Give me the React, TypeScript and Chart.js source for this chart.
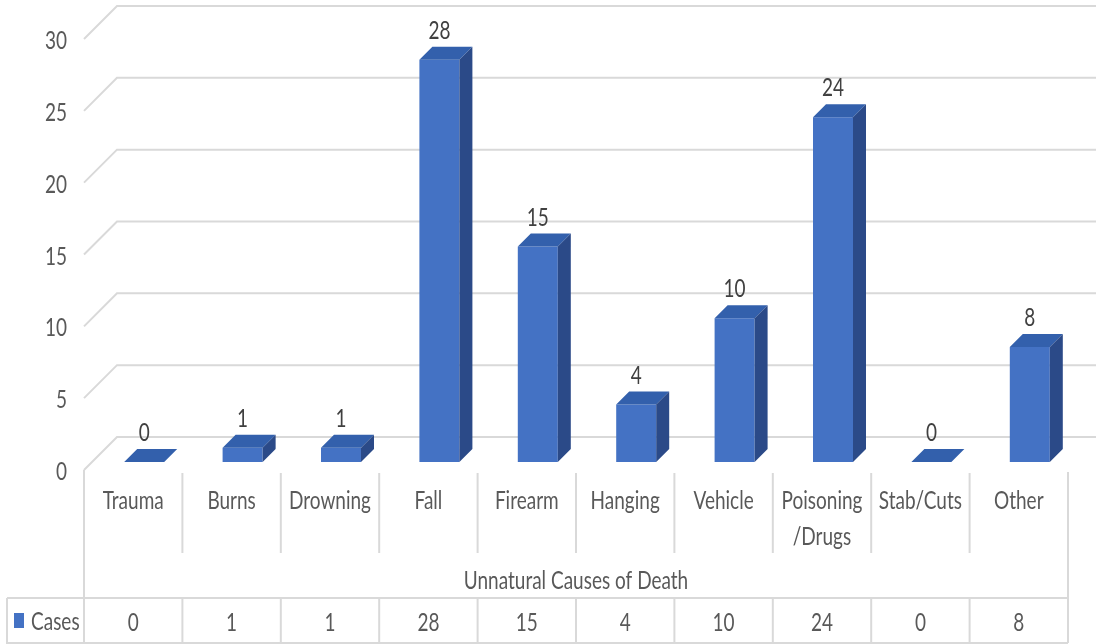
import React, { useEffect, useRef } from 'react';
import { Chart, registerables } from 'chart.js';

Chart.register(...registerables);

const categories = ['Trauma', 'Burns', 'Drowning', 'Fall', 'Firearm', 'Hanging', 'Vehicle', 'Poisoning /Drugs', 'Stab/Cuts', 'Other'];
const categoryLines = [['Trauma'], ['Burns'], ['Drowning'], ['Fall'], ['Firearm'], ['Hanging'], ['Vehicle'], ['Poisoning', '/Drugs'], ['Stab/Cuts'], ['Other']];
const cases = [0, 1, 1, 28, 15, 4, 10, 24, 0, 8];
const yTicks = [0, 5, 10, 15, 20, 25, 30];
const seriesName = 'Cases';
const axisTitle = 'Unnatural Causes of Death';

const W = 1096;
const H = 644;
const FONT = '25px Lato, "Liberation Sans", sans-serif';
const SX = 0.76;
const TEXT = '#595959';
const GRID = '#D9D9D9';
const FRONT = '#4472C4';
const TOP = '#3360AC';
const SIDE = '#2B4A88';
const DEPTH = 13;

function drawText(ctx: CanvasRenderingContext2D, text: string, x: number, y: number, align: CanvasTextAlign = 'center', color = TEXT) {
  ctx.save();
  ctx.translate(x, y);
  ctx.scale(SX, 1);
  ctx.font = FONT;
  ctx.fillStyle = color;
  ctx.textAlign = align;
  ctx.textBaseline = 'middle';
  ctx.fillText(text, 0, 0);
  ctx.restore();
}

function line(ctx: CanvasRenderingContext2D, pts: number[][]) {
  ctx.beginPath();
  ctx.moveTo(pts[0][0], pts[0][1]);
  for (let i = 1; i < pts.length; i++) ctx.lineTo(pts[i][0], pts[i][1]);
  ctx.stroke();
}

function poly(ctx: CanvasRenderingContext2D, pts: number[][], color: string) {
  ctx.beginPath();
  ctx.moveTo(pts[0][0], pts[0][1]);
  for (let i = 1; i < pts.length; i++) ctx.lineTo(pts[i][0], pts[i][1]);
  ctx.closePath();
  ctx.fillStyle = color;
  ctx.fill();
}

const threeD = {
  id: 'threeD',
  beforeDatasetsDraw(chart: any) {
    const { ctx, scales } = chart;
    const y = scales.y;
    const fx = chart.chartArea.left - 11;
    ctx.save();
    ctx.strokeStyle = GRID;
    ctx.lineWidth = 2;
    yTicks.forEach((v) => {
      const b = y.getPixelForValue(v) - 25;
      line(ctx, [[fx, b + 33], [fx + 33, b], [W, b]]);
      drawText(ctx, String(v), 67, b + 35, 'right');
    });
    ctx.restore();
  },
  afterDatasetsDraw(chart: any) {
    const { ctx, scales } = chart;
    const x = scales.x;
    const meta = chart.getDatasetMeta(0);
    ctx.save();
    meta.data.forEach((bar: any, i: number) => {
      const p = bar.getProps(['x', 'y', 'base', 'width'], true);
      const x1 = p.x - p.width / 2;
      const x2 = p.x + p.width / 2;
      const top = p.y;
      const base = p.base;
      poly(ctx, [[x1, top], [x2, top], [x2 + DEPTH, top - DEPTH], [x1 + DEPTH, top - DEPTH]], TOP);
      if (base - top > 0.5) {
        poly(ctx, [[x2, top], [x2 + DEPTH, top - DEPTH], [x2 + DEPTH, base - DEPTH], [x2, base]], SIDE);
      }
      drawText(ctx, String(cases[i]), p.x, top - 29, 'center', '#404040');
    });

    // category axis + data table
    const step = (x.getPixelForValue(1) - x.getPixelForValue(0));
    const left = x.getPixelForValue(0) - 11 - step / 2;
    const right = left + step * categories.length;
    ctx.strokeStyle = GRID;
    ctx.lineWidth = 2;
    line(ctx, [[left, 470], [left, H]]);
    line(ctx, [[right, 472], [right, H - 1]]);
    for (let i = 1; i < categories.length; i++) {
      const bx = left + step * i;
      line(ctx, [[bx, 473], [bx, 553]]);
      line(ctx, [[bx, 598], [bx, H]]);
    }
    line(ctx, [[7, 598], [right, 598]]);
    line(ctx, [[7, H - 1], [right, H - 1]]);
    line(ctx, [[7, 598], [7, H]]);

    categoryLines.forEach((ls, i) => {
      const cx = left + step * (i + 0.5);
      ls.forEach((t, k) => drawText(ctx, t, cx, 501 + k * 36));
      drawText(ctx, String(cases[i]), cx, 623);
    });
    drawText(ctx, axisTitle, (left + right) / 2, 581);

    ctx.fillStyle = FRONT;
    ctx.fillRect(14, 613, 10, 15);
    drawText(ctx, seriesName, 31, 622, 'left');
    ctx.restore();
  },
};

export default function App() {
  const ref = useRef<HTMLCanvasElement>(null);
  useEffect(() => {
    if (!ref.current) return;
    const chart = new Chart(ref.current, {
      type: 'bar',
      data: {
        labels: categories,
        datasets: [{
          label: seriesName,
          data: cases,
          backgroundColor: FRONT,
          barPercentage: 40 / 98.4,
          categoryPercentage: 1,
        }],
      },
      options: {
        responsive: false,
        animation: false,
        devicePixelRatio: 1,
        layout: { padding: { left: 95, right: 17, top: 31, bottom: 182 } },
        scales: {
          x: { display: false },
          y: { display: false, min: 0, max: 30 },
        },
        plugins: { legend: { display: false }, tooltip: { enabled: false } },
      },
      plugins: [threeD],
    });
    return () => chart.destroy();
  }, []);
  return (
    <div style={{ position: 'fixed', left: 0, top: 0, width: W, height: H, background: '#fff' }}>
      <canvas ref={ref} width={W} height={H} style={{ width: W, height: H }} />
    </div>
  );
}
